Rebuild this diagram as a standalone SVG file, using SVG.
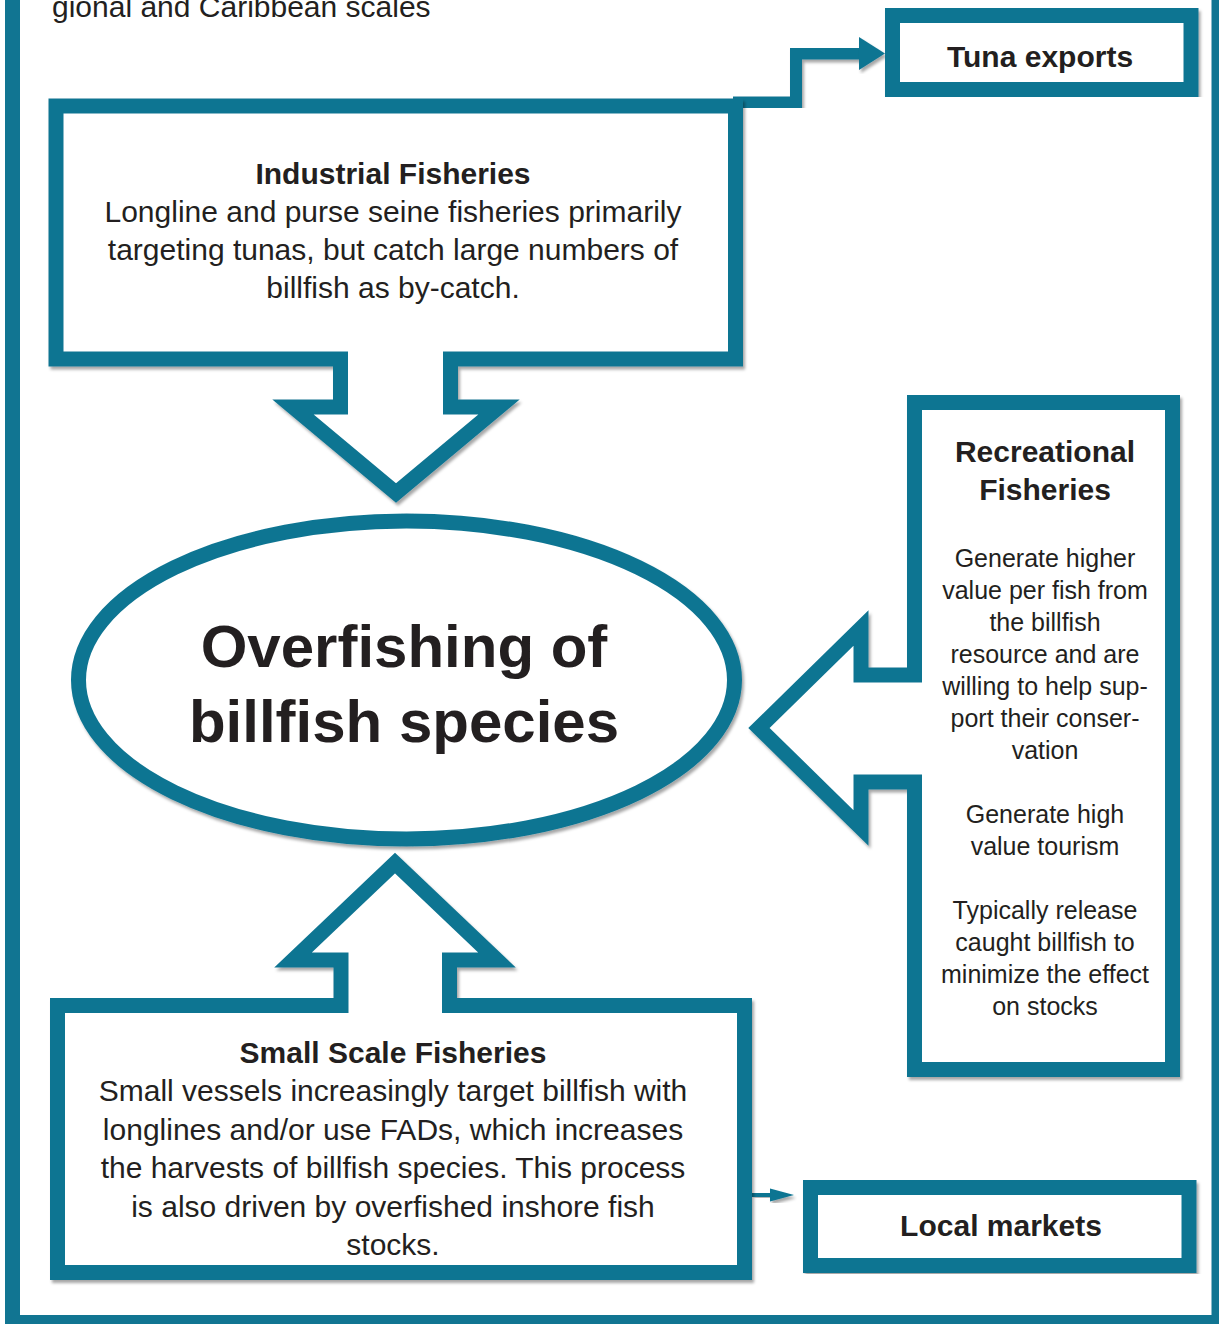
<svg xmlns="http://www.w3.org/2000/svg" width="1219" height="1324" viewBox="0 0 1219 1324">
<style>
.frame{fill:none;stroke:#117592;stroke-width:15}
.shape{fill:#ffffff;stroke:#117592;stroke-width:15;stroke-linejoin:miter;stroke-miterlimit:10;filter:url(#sh)}
.t{font-family:"Liberation Sans",Arial,sans-serif;fill:#231f20;text-anchor:middle}
.b{font-weight:bold}
.r30{font-size:30px}
.r25{font-size:25px}
.big{font-size:60px;font-weight:bold}
.conn{fill:none;stroke:#117592;stroke-linejoin:miter;filter:url(#sh)}
.head{fill:#117592;filter:url(#sh)}
</style>
<defs>
<filter id="sh" x="-10%" y="-10%" width="120%" height="120%">
<feDropShadow dx="2" dy="3" stdDeviation="1.5" flood-color="#000000" flood-opacity="0.35"/>
</filter>
</defs>
<rect width="1219" height="1324" fill="#ffffff"/>
<g id="frame">
<rect class="frame" x="12.5" y="-40" width="1206.5" height="1362.5"/>
<text class="t r30" x="52" y="17" style="text-anchor:start">gional and Caribbean scales</text>
</g>
<g id="connectors">
<path class="conn" d="M733,102.5 H796 V53.5 H862" stroke-width="12"/>
<polygon class="head" points="859,37 885,53.5 859,70"/>
<rect class="head" x="752" y="1193" width="22" height="4"/>
<polygon class="head" points="770,1188.5 794,1195 770,1201.5"/>
</g>
<g id="industrial">
<path class="shape" d="M56,106 H735.5 V359 H450.5 V407 H499 L396 493 L293 407 H340.5 V359 H56 Z"/>
<text class="t r30 b" x="393" y="184">Industrial Fisheries</text>
<text class="t r30" x="393" y="222">Longline and purse seine fisheries primarily</text>
<text class="t r30" x="393" y="260">targeting tunas, but catch large numbers of</text>
<text class="t r30" x="393" y="298">billfish as by-catch.</text>
</g>
<g id="tuna">
<rect class="shape" x="892.5" y="15.5" width="298.5" height="74"/>
<text class="t r30 b" x="1040" y="67">Tuna exports</text>
</g>
<g id="overfishing">
<ellipse class="shape" cx="406.5" cy="680" rx="328" ry="159" stroke-width="17"/>
<text class="t big" x="404" y="667">Overfishing of</text>
<text class="t big" x="404" y="742">billfish species</text>
</g>
<g id="recreational">
<path class="shape" d="M914.5,402.5 H1172.5 V1069.5 H914.5 V782 H861 V828 L759 728 L861 628 V675 H914.5 Z"/>
<text class="t r30 b" x="1045" y="462">Recreational</text>
<text class="t r30 b" x="1045" y="500">Fisheries</text>
<text class="t r25" x="1045" y="567">Generate higher</text>
<text class="t r25" x="1045" y="599">value per fish from</text>
<text class="t r25" x="1045" y="631">the billfish</text>
<text class="t r25" x="1045" y="663">resource and are</text>
<text class="t r25" x="1045" y="695">willing to help sup-</text>
<text class="t r25" x="1045" y="727">port their conser-</text>
<text class="t r25" x="1045" y="759">vation</text>
<text class="t r25" x="1045" y="823">Generate high</text>
<text class="t r25" x="1045" y="855">value tourism</text>
<text class="t r25" x="1045" y="919">Typically release</text>
<text class="t r25" x="1045" y="951">caught billfish to</text>
<text class="t r25" x="1045" y="983">minimize the effect</text>
<text class="t r25" x="1045" y="1015">on stocks</text>
</g>
<g id="smallscale">
<path class="shape" d="M57.5,1005.5 H341 V960 H293 L395 863 L497 960 H449.5 V1005.5 H744.5 V1272.5 H57.5 Z"/>
<text class="t r30 b" x="393" y="1063">Small Scale Fisheries</text>
<text class="t r30" x="393" y="1101">Small vessels increasingly target billfish with</text>
<text class="t r30" x="393" y="1140">longlines and/or use FADs, which increases</text>
<text class="t r30" x="393" y="1178">the harvests of billfish species. This process</text>
<text class="t r30" x="393" y="1217">is also driven by overfished inshore fish</text>
<text class="t r30" x="393" y="1255">stocks.</text>
</g>
<g id="localmarkets">
<rect class="shape" x="810.5" y="1187.5" width="378.5" height="78"/>
<text class="t r30 b" x="1001" y="1236">Local markets</text>
</g>
</svg>
